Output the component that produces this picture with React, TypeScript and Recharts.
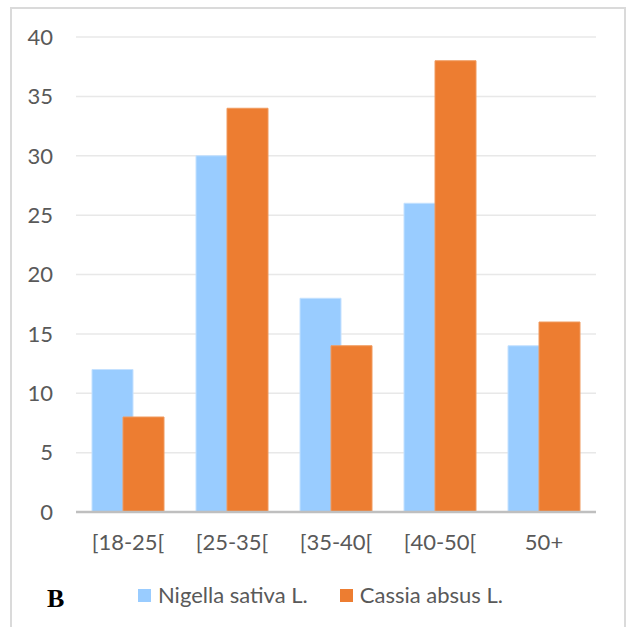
import React from "react";
import { Bar, BarChart, CartesianGrid, Legend, XAxis, YAxis } from "recharts";

const ageGroups = ["[18-25[", "[25-35[", "[35-40[", "[40-50[", "50+"];
const nigellaValues = [12, 30, 18, 26, 14];
const cassiaValues = [8, 34, 14, 38, 16];
const yTicks = [0, 5, 10, 15, 20, 25, 30, 35, 40];

const NIGELLA = "Nigella sativa L.";
const CASSIA = "Cassia absus L.";
const NIGELLA_COLOR = "#99CCFF";
const CASSIA_COLOR = "#ED7D31";

const data = ageGroups.map((group, i) => ({
  group,
  nigella: nigellaValues[i],
  cassia: cassiaValues[i],
}));

const legendItems = [
  { value: NIGELLA, color: NIGELLA_COLOR },
  { value: CASSIA, color: CASSIA_COLOR },
];

const FONT = "Lato, 'Open Sans', sans-serif";
const TEXT = "#595959";

// legend keeps series order (Recharts sorts the payload by name otherwise)
function LegendContent() {
  return (
    <div style={{ display: "flex", justifyContent: "center", gap: 32, fontFamily: FONT, fontSize: 22, color: TEXT, lineHeight: "24px" }}>
      {legendItems.map((entry) => (
        <div key={entry.value} style={{ display: "flex", alignItems: "center" }}>
          <span style={{ display: "inline-block", width: 13, height: 13, background: entry.color, marginRight: 7 }} />
          <span>{entry.value}</span>
        </div>
      ))}
    </div>
  );
}

function AgeGroupChart() {
  return (
    <div style={{ position: "absolute", left: 0, top: 0, width: 627, height: 627, overflow: "hidden", background: "#fff" }}>
      <div
        style={{
          position: "absolute",
          left: 10,
          top: 7,
          width: 612,
          height: 640,
          border: "2px solid #dadada",
        }}
      />
      <BarChart
        width={627}
        height={627}
        data={data}
        margin={{ top: 37, right: 31, bottom: 55, left: 16 }}
        barSize={41}
        barGap={-10}
        style={{ position: "absolute", left: 0, top: 0 }}
      >
        <CartesianGrid vertical={false} stroke="#e8e8e8" strokeWidth={1.5} />
        <XAxis
          dataKey="group"
          height={60}
          tickLine={false}
          axisLine={{ stroke: "#bfbfbf", strokeWidth: 2.5 }}
          tickMargin={16}
          tick={{ fill: TEXT, fontSize: 22, fontFamily: FONT }}
          interval={0}
        />
        <YAxis
          width={60}
          domain={[0, 40]}
          ticks={yTicks}
          axisLine={false}
          tickLine={false}
          tickMargin={17}
          tick={{ fill: TEXT, fontSize: 22, fontFamily: FONT }}
        />
        <Legend
          verticalAlign="middle"
          align="center"
          wrapperStyle={{ top: 583, left: 7, width: 627 }}
          content={() => <LegendContent />}
        />
        <Bar dataKey="nigella" name={NIGELLA} fill={NIGELLA_COLOR} stroke="#C4E1FF" strokeWidth={1} isAnimationActive={false} />
        <Bar dataKey="cassia" name={CASSIA} fill={CASSIA_COLOR} stroke="#F09A5E" strokeWidth={1} isAnimationActive={false} />
      </BarChart>
      <div
        style={{
          position: "absolute",
          left: 47,
          top: 584,
          fontFamily: "'Liberation Serif', 'Times New Roman', serif",
          fontWeight: "bold",
          fontSize: 26,
          color: "#000",
        }}
      >
        B
      </div>
    </div>
  );
}

export default function App() {
  return <AgeGroupChart />;
}
